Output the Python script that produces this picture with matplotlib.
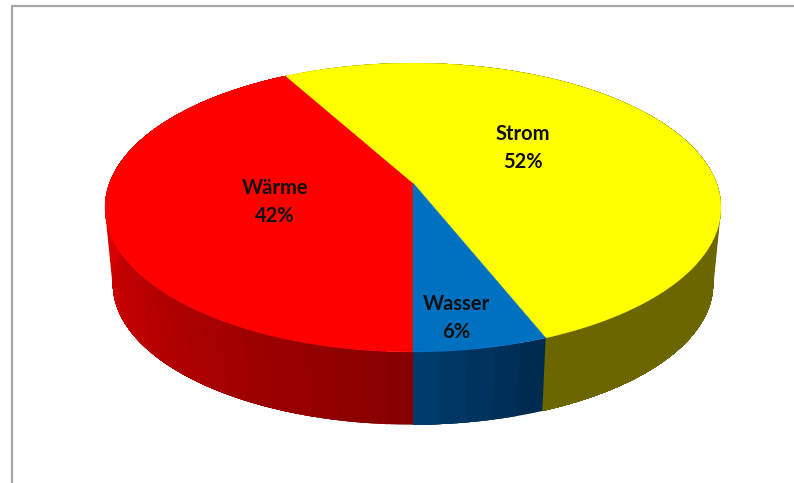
import numpy as np
import matplotlib
matplotlib.use("Agg")
import matplotlib.pyplot as plt
from matplotlib.patches import Polygon

# chart data
labels = ["Wärme", "Strom", "Wasser"]
shares = [42, 52, 6]

# colours
top_colors = ["#ff0000", "#ffff00", "#0070c0"]
wall_near = [(0.52, 0, 0), (0.42, 0.40, 0), (0.0, 0.24, 0.44)]  # at the 6 o'clock end
wall_far = [(0.86, 0, 0), (0.42, 0.40, 0), (0.0, 0.16, 0.30)]

# geometry of the tilted disc, in pixels
cx = 413.0
apex_top = 183.0
apex_bottom = 260.0
bottom_scale = 0.975
a = 303.5
b = 140.3
k = 0.1695


def rim(theta, apex_y, scale=1.0):
    # theta in degrees, clockwise from 6 o'clock, with a bit of perspective
    t = np.radians(theta)
    u = -np.sin(t)
    v = -np.cos(t)
    w = 1 + k * v
    return cx + scale * a * u / w, apex_y - scale * b * v / w


fig = plt.figure(figsize=(7.94, 4.83), dpi=100)
ax = fig.add_axes([0, 0, 1, 1])
ax.set_xlim(0, 794)
ax.set_ylim(483, 0)
ax.axis("off")

# frame of the chart area, only top and left are in the picture
ax.plot([11.5, 11.5, 794], [483, 6, 6], color="#a6a6a6", lw=1.6, solid_joinstyle="miter", zorder=1)

edges = np.concatenate([[0], np.cumsum(shares)]) * 3.6

# side wall in bands, each band runs on to the end of its slice so the
# next one paints over it and no seams show
for i in range(len(shares)):
    start, end = edges[i], edges[i + 1]
    n = max(int((end - start) / 4), 3)
    bands = np.linspace(start, end, n + 1)
    for t0 in bands[:-1]:
        mid = t0 + (end - start) / n / 2
        d = abs(((mid + 180) % 360) - 180)
        f = min(d / 90, 1) if i == 0 else min(d / 21.6, 1)
        col = tuple(np.array(wall_near[i]) * (1 - f) + np.array(wall_far[i]) * f)
        th = np.linspace(t0, end, 60)
        x0, y0 = rim(th, apex_top)
        x1, y1 = rim(th[::-1], apex_bottom, bottom_scale)
        ax.add_patch(Polygon(np.column_stack([np.r_[x0, x1], np.r_[y0, y1]]),
                             fc=col, ec="none", zorder=2))

# top of the pie
for i in range(len(shares)):
    th = np.linspace(edges[i], edges[i + 1], 200)
    x, y = rim(th, apex_top)
    ax.add_patch(Polygon(np.column_stack([np.r_[cx, x], np.r_[apex_top, y]]),
                         fc=top_colors[i], ec=top_colors[i], lw=0.3, zorder=3))

# data labels
label_pos = [(275, 202), (523, 148.5), (456, 318)]
for name, val, (lx, ly) in zip(labels, shares, label_pos):
    ax.text(lx, ly, "{}\n{}%".format(name, val), ha="center", va="center", fontsize=14.5,
            fontweight="bold", family="Lato", color="#101010", linespacing=1.5, zorder=4)

fig.savefig("out.png", dpi=100, facecolor="white")
